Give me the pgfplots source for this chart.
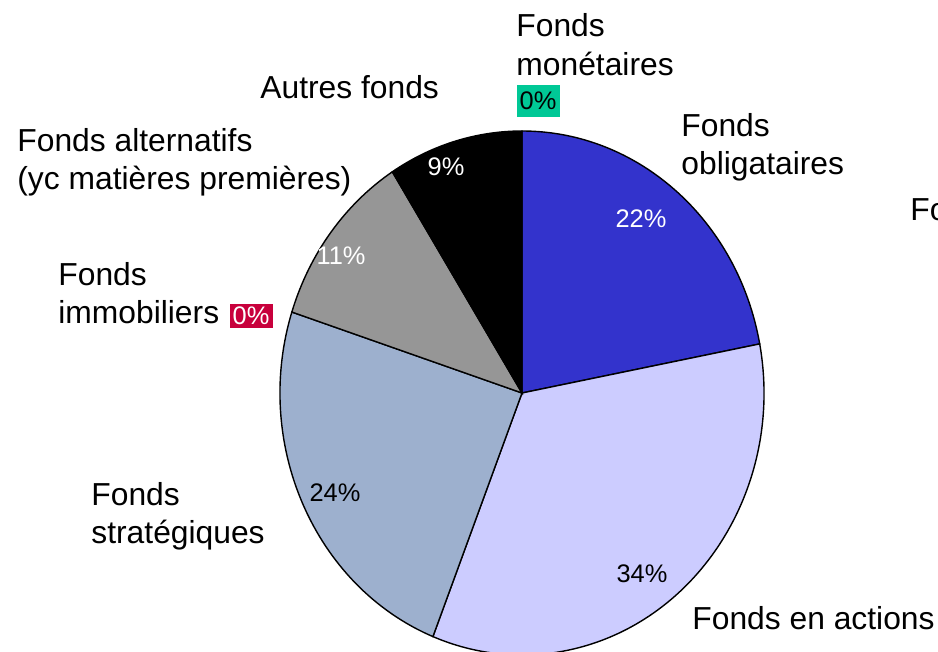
\documentclass[border=0pt]{standalone}
\usepackage{fontspec}
\setmainfont{Liberation Sans}
\usepackage{pgfplots}
\usepackage{pgfplotstable}
\pgfplotsset{compat=1.18}
\definecolor{cmon}{HTML}{00C896}
\definecolor{coblig}{HTML}{3333CC}
\definecolor{cfo}{HTML}{FFFFFF}
\definecolor{cact}{HTML}{CCCCFF}
\definecolor{cstrat}{HTML}{9DB0CE}
\definecolor{cimmo}{HTML}{C8003C}
\definecolor{calt}{HTML}{969696}
\definecolor{caut}{HTML}{000000}
\pgfplotstableread{
name value color
Monetaires 0 cmon
Obligataires 22 coblig
Formule 0 cfo
Actions 34 cact
Strategiques 24 cstrat
Immobiliers 0 cimmo
Alternatifs 11 calt
Autres 9 caut
}\pietable
\newcommand\lbl{\fontsize{15.9}{19}\selectfont}
\newcommand\pct{\fontsize{12.7}{15}\selectfont}
\begin{document}
\begin{tikzpicture}
\useasboundingbox (0,0) rectangle (469pt,326pt);
\clip (0,0) rectangle (469pt,326pt);
\begin{axis}[at={(0,0)}, anchor=south west, x=0.5pt, y=0.5pt,
  xmin=0, xmax=938, ymin=0, ymax=652, y dir=reverse,
  axis lines=none, scale only axis, clip=false]
\pgfplotsextra{
  \pgfplotstablegetrowsof{\pietable}
  \pgfmathtruncatemacro\N{\pgfplotsretval-1}
  \gdef\cum{90}
  \foreach \i in {0,...,\N}{
    \pgfplotstablegetelem{\i}{value}\of\pietable
    \let\v\pgfplotsretval
    \pgfplotstablegetelem{\i}{color}\of\pietable
    \let\c\pgfplotsretval
    \pgfmathsetmacro\e{\cum-3.6*\v}
    \ifdim \v pt>0pt
      \filldraw[fill=\c, draw=black, line width=0.7pt]
        (axis cs:522,393) -- ++(\cum:121pt and 131pt)
        arc[start angle=\cum, end angle=\e, x radius=121pt, y radius=131pt] -- cycle;
    \fi
    \xdef\cum{\e}
  }
}
% outer labels
\node[anchor=base west, font=\lbl, inner sep=0] at (axis cs:516,37) {Fonds};
\node[anchor=base west, font=\lbl, inner sep=0] at (axis cs:516,76) {monétaires};
\node[fill=cmon, font=\pct, inner sep=0, minimum width=21.5pt, minimum height=16pt] at (axis cs:538,101) {0\%};
\node[anchor=base west, font=\lbl, inner sep=0] at (axis cs:260,99) {Autres fonds};
\node[anchor=base west, font=\lbl, inner sep=0] at (axis cs:17,152) {Fonds alternatifs};
\node[anchor=base west, font=\lbl, inner sep=0] at (axis cs:17,190) {(yc matières premières)};
\node[anchor=base west, font=\lbl, inner sep=0] at (axis cs:58,286) {Fonds};
\node[anchor=base west, font=\lbl, inner sep=0] at (axis cs:58,324) {immobiliers};
\node[fill=cimmo, text=white, font=\pct, inner sep=0, minimum width=21.5pt, minimum height=12pt] at (axis cs:251,316) {0\%};
\node[anchor=base west, font=\lbl, inner sep=0] at (axis cs:91,505) {Fonds};
\node[anchor=base west, font=\lbl, inner sep=0] at (axis cs:91,543) {stratégiques};
\node[anchor=base west, font=\lbl, inner sep=0] at (axis cs:692,629) {Fonds en actions};
\node[anchor=base west, font=\lbl, inner sep=0] at (axis cs:681,137) {Fonds};
\node[anchor=base west, font=\lbl, inner sep=0] at (axis cs:681,175) {obligataires};
\node[anchor=base west, font=\lbl, inner sep=0] at (axis cs:910,221) {Fonds à formule};
% inner labels
\node[font=\pct, text=white] at (axis cs:641,219) {22\%};
\node[font=\pct, text=black] at (axis cs:642,574) {34\%};
\node[font=\pct, text=black] at (axis cs:335,493) {24\%};
\node[font=\pct, text=white] at (axis cs:341,256) {11\%};
\node[font=\pct, text=white] at (axis cs:446,167) {9\%};
\end{axis}
\end{tikzpicture}
\end{document}
